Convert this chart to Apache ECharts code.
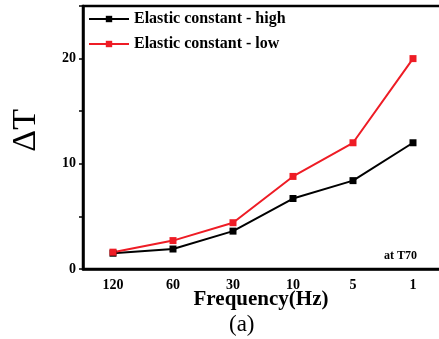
<!DOCTYPE html>
<html><head><meta charset="utf-8">
<script src="https://cdn.jsdelivr.net/npm/echarts@6/dist/echarts.min.js"></script>
<style>html,body{margin:0;padding:0;background:#fff}#c{width:439px;height:339px}</style>
</head><body><div id="c"></div>
<script>
const categories = ['120', '60', '30', '10', '5', '1'];
const highValues = [1.5, 1.9, 3.6, 6.7, 8.4, 12.0];
const lowValues = [1.6, 2.7, 4.4, 8.8, 12.0, 20.0];
const seriesNames = ['Elastic constant - high', 'Elastic constant - low'];
const yTickLabels = [0, 10, 20];

const serif = '"Liberation Serif", "Times New Roman", serif';
const chart = echarts.init(document.getElementById('c'), null, {renderer: 'canvas'});
chart.setOption({
  animation: false,
  backgroundColor: '#fff',
  grid: {left: 83, width: 360, top: 6, bottom: 70, outerBoundsMode: 'none', containLabel: false,
    show: true, borderColor: '#000', borderWidth: 2.5, backgroundColor: 'transparent'},
  legend: {
    left: 88, top: 11, padding: 0, orient: 'vertical', itemGap: 9, itemWidth: 40, itemHeight: 8,
    textStyle: {fontFamily: serif, fontWeight: 'bold', fontSize: 16, color: '#000'},
    data: seriesNames
  },
  xAxis: {
    type: 'category', data: categories, boundaryGap: true,
    axisLine: {lineStyle: {color: '#000', width: 2.5}},
    axisTick: {alignWithLabel: true, length: 5, lineStyle: {color: '#000', width: 1.5}},
    axisLabel: {fontFamily: serif, fontWeight: 'bold', fontSize: 14, color: '#000', margin: 9},
    splitLine: {show: false}
  },
  yAxis: {
    type: 'value', min: 0, max: 25, interval: 5,
    axisLine: {show: true, lineStyle: {color: '#000', width: 2.5}},
    axisTick: {show: true, length: 4, lineStyle: {color: '#000', width: 1.5}},
    axisLabel: {fontFamily: serif, fontWeight: 'bold', fontSize: 14, color: '#000', margin: 7,
      formatter: v => yTickLabels.indexOf(v) >= 0 ? String(v) : ''},
    splitLine: {show: false}
  },
  graphic: [
    {type: 'text', left: 9, top: 109, rotation: Math.PI / 2,
      style: {text: 'ΔT', font: '34px ' + serif, fill: '#000'}},
    {type: 'text', x: 261, y: 289,
      style: {text: 'Frequency(Hz)', font: 'bold 21px ' + serif, fill: '#000', textAlign: 'center', textVerticalAlign: 'top'}},
    {type: 'text', left: 229, top: 313,
      style: {text: '(a)', font: '23px ' + serif, fill: '#000'}},
    {type: 'text', left: 384, top: 250,
      style: {text: 'at T70', font: 'bold 12px ' + serif, fill: '#000'}}
  ],
  series: [
    {name: seriesNames[0], type: 'line', data: highValues, symbol: 'rect', symbolSize: 7,
      itemStyle: {color: '#000'}, lineStyle: {color: '#000', width: 2}},
    {name: seriesNames[1], type: 'line', data: lowValues, symbol: 'rect', symbolSize: 7,
      itemStyle: {color: '#ee1c25'}, lineStyle: {color: '#ee1c25', width: 2}}
  ]
});
</script></body></html>
